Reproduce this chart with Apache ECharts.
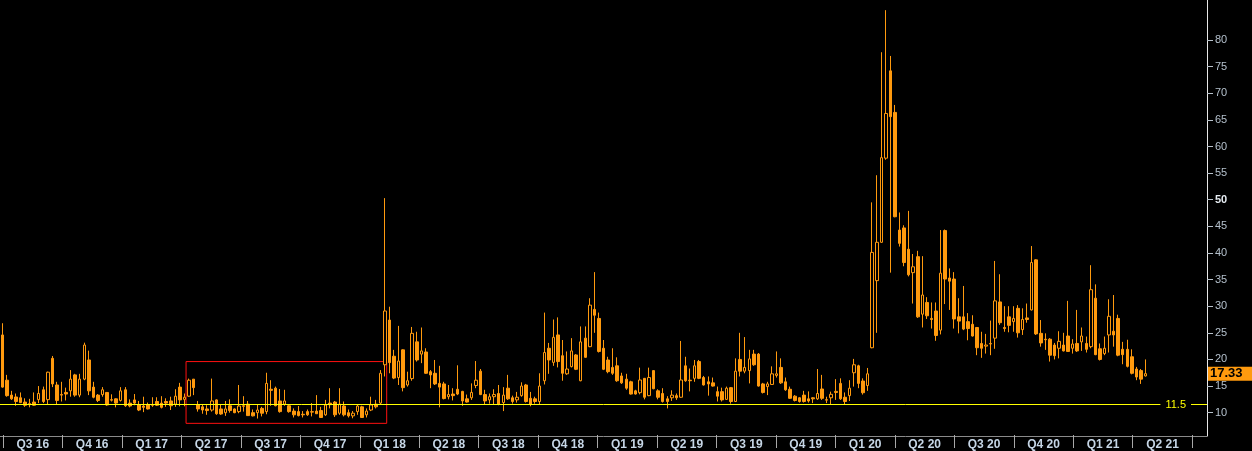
<!DOCTYPE html>
<html><head><meta charset="utf-8">
<script src="https://cdn.jsdelivr.net/npm/echarts@6/dist/echarts.min.js"></script>
<style>html,body{margin:0;padding:0;background:#000;overflow:hidden}#c{width:1252px;height:451px}</style>
</head><body><div id="c"></div>
<script>
// ---- data ----
const firstWeek = '2016-06-27';      // Monday of first weekly bar
const totalSlots = 265;             // weekly slots on the axis (incl. empty future weeks)
const quarterLabels = ['Q3 16','Q4 16','Q1 17','Q2 17','Q3 17','Q4 17','Q1 18','Q2 18','Q3 18','Q4 18',
                       'Q1 19','Q2 19','Q3 19','Q4 19','Q1 20','Q2 20','Q3 20','Q4 20','Q1 21','Q2 21'];
const yTickValues = [10,15,20,25,30,35,40,45,50,55,60,65,70,75,80];
const supportLevel = 11.5;
const lastPrice = 17.33;
const boxSlots = [40.85, 84.9];     // annotation box, in week-slot units
const boxLevels = [19.6, 8.0];

// weekly bars: [open, high, low, close]
const w2016 = [
[24.6,26.8,14.7,14.8],[16.1,17.1,13.0,13.2],[13.3,14.1,12.4,12.6],[12.95,13.6,11.3,12.1],
[12.8,13.8,11.8,11.9],[12.0,12.7,11.1,11.4],[11.7,12.6,11.0,11.5],[12.0,13.8,11.3,11.4],
[12.45,15.0,11.8,13.6],[14.3,14.9,11.8,12.1],[12.45,17.7,11.6,17.6],[20.2,20.65,14.8,15.4],
[15.2,15.8,11.6,12.3],[13.4,15.8,12.1,13.3],[13.8,14.7,12.3,13.5],[14.1,18.0,13.0,16.3],
[17.1,17.3,13.0,13.3],[13.3,17.3,12.9,16.3],[16.3,23.15,16.1,22.7],[19.9,21.65,13.3,14.1],
[14.8,15.8,12.7,12.9],[13.3,13.5,12.0,12.3],[13.4,14.8,13.0,14.3],[13.8,13.8,11.3,11.45],
[12.45,13.45,12.1,12.35],[12.6,12.7,11.0,11.8],[12.3,14.8,12.1,14.1]
];
const w2017 = [
[14.3,14.8,11.1,11.3],[11.8,12.5,11.0,11.25],[12.4,13.5,11.4,11.8],[11.45,12.2,10.3,10.5],
[11.25,13.0,10.1,11.0],[11.45,11.9,10.6,10.7],[11.5,12.9,11.1,11.4],[12.1,12.9,11.25,11.4],
[11.8,13.1,10.8,11.0],[12.1,12.7,11.1,11.8],[12.2,13.0,10.5,11.3],[11.6,14.4,11.1,13.1],
[14.8,15.6,11.2,12.4],[12.5,13.6,11.2,12.9],[13.1,16.4,13.0,16.1],[16.3,16.3,13.3,14.7],
[11.45,12.2,10.2,10.7],[11.1,11.6,9.8,10.5],[10.7,11.4,9.6,10.4],[10.5,16.4,10.2,12.2],
[12.4,12.5,9.6,9.8],[10.7,11.5,9.6,9.75],[10.0,12.2,9.4,10.7],[11.3,12.5,10.0,10.4],
[10.7,10.8,9.9,10.0],[10.2,15.2,9.9,11.25],[11.3,13.1,10.2,11.2],[11.6,12.2,9.4,9.45],
[10.0,10.6,9.3,9.4],[10.0,11.45,8.9,10.5],[10.8,11.1,9.3,9.9],[10.2,17.5,9.7,15.5],
[14.4,16.1,11.3,14.2],[14.6,14.9,11.2,11.3],[12.2,14.45,10.0,10.2],[11.6,14.3,11.3,12.2],
[11.3,11.45,10.0,10.2],[10.3,10.8,9.1,9.6],[10.2,11.25,9.3,9.45],[9.7,10.3,9.1,9.6],
[10.2,10.6,9.4,9.6],[10.1,11.8,9.3,10.2],[10.3,13.3,9.75,9.8],[10.4,11.1,9.0,9.1],
[9.6,12.4,9.4,11.45],[11.8,14.6,10.8,11.5],[12.0,12.2,9.2,9.6],[9.9,14.6,9.6,11.6],
[11.25,12.1,9.3,9.6],[10.0,10.6,9.1,9.4],[9.4,10.3,8.95,9.9],[10.2,11.45,9.6,11.25]
];
const w2018 = [
[11.1,11.3,9.0,9.1],[9.6,10.8,9.1,10.3],[10.5,13.0,10.3,11.45],[11.6,12.4,10.8,11.1],
[11.8,18.0,11.6,17.4],[19.0,50.3,16.8,29.1],[27.4,29.9,17.4,19.4],[20.6,21.8,16.3,16.5],
[16.6,26.3,15.2,19.7],[21.8,21.9,14.0,14.7],[15.2,17.7,14.9,16.0],[16.4,26.1,16.0,24.9],
[23.3,25.2,19.6,19.9],[21.0,26.0,19.3,21.6],[21.4,22.1,17.3,17.4],[17.7,18.0,14.6,17.1],
[17.4,19.9,15.2,15.4],[15.5,18.8,11.0,14.8],[15.4,15.8,12.5,12.65],[13.0,15.2,12.5,13.4],
[13.5,14.6,12.3,13.2],[14.4,18.9,13.3,13.5],[14.0,14.1,11.3,12.2],[12.6,13.4,11.9,12.0],
[12.8,15.5,12.4,13.8],[15.1,19.7,14.6,16.1],[17.8,18.2,13.3,13.4],[13.4,14.3,11.6,12.2],
[12.4,13.6,11.7,13.0],[13.0,14.4,11.6,13.4],[13.6,15.2,11.4,11.6],[11.9,14.8,10.3,13.3],
[14.6,17.1,12.4,12.6],[12.8,13.2,11.7,12.1],[12.4,13.9,11.9,12.9],[13.2,15.7,13.0,15.0],
[15.2,15.4,11.9,12.1],[12.7,13.9,11.2,11.6],[12.6,13.0,11.7,12.1],[12.1,17.4,11.5,15.0],
[16.0,28.8,15.3,21.3],[22.1,23.1,17.3,19.9],[19.45,27.5,18.8,24.15],[24.6,27.9,18.5,19.6],
[20.7,23.65,16.0,17.4],[17.3,21.5,17.1,18.2],[18.65,24.0,18.5,21.6],[20.84,21.0,18.0,18.15],
[16.0,26.2,15.9,23.3],[24.0,26.2,20.3,20.4],[22.4,31.5,22.3,30.2],[29.4,36.4,25.0,28.3],
[27.7,28.8,21.3,21.5]
];
const w2019 = [
[22.1,23.65,18.0,18.15],[19.9,20.5,17.4,17.7],[18.5,22.1,17.1,17.4],[18.8,20.4,15.8,16.0],
[16.9,17.5,15.4,15.6],[16.3,17.3,14.3,14.6],[15.8,16.0,13.4,13.5],[14.1,14.3,13.4,13.5],
[13.76,18.46,13.45,16.14],[16.45,16.5,12.5,12.9],[13.2,18.46,13.1,16.6],[17.9,18.0,14.4,14.5],
[14.1,14.4,12.5,12.9],[13.6,14.6,11.9,12.1],[12.6,13.1,10.8,12.1],[12.8,14.2,12.2,13.3],
[13.2,13.6,12.4,12.8],[12.9,23.47,12.8,16.14],[18.8,20.5,15.8,16.0],[16.1,18.3,14.0,16.0],
[16.45,19.9,15.8,18.8],[19.6,19.9,16.3,16.45],[16.6,16.9,15.1,15.2],[15.8,16.8,13.2,15.4],
[15.6,16.6,14.9,15.0],[13.95,14.9,12.1,13.1],[13.95,14.7,12.1,12.4],[12.5,14.9,12.4,14.6],
[14.7,14.8,11.7,12.1],[12.1,20.2,12.0,17.8],[20.0,25.0,16.8,17.8],[17.8,24.2,17.4,18.5],
[17.9,21.8,15.5,20.1],[21.0,21.8,18.8,19.0],[21.0,21.2,14.9,15.0],[15.4,15.6,13.6,13.8],
[14.9,15.8,13.3,15.4],[15.3,18.7,15.2,17.3],[17.0,21.5,16.6,17.3],[18.5,20.2,15.4,15.6],
[15.8,16.6,14.1,14.3],[14.4,14.9,12.6,12.7],[13.1,13.3,12.1,12.3],[12.8,12.9,11.9,12.1],
[13.3,14.1,11.9,12.1],[12.6,14.0,11.9,12.2],[12.8,12.9,11.8,12.6],[12.6,18.2,12.4,13.6],
[14.45,17.1,12.4,12.7],[12.35,13.0,11.8,12.45],[12.8,13.95,11.6,13.45],[14.0,16.3,12.4,13.8]
];
const w2020 = [
[15.5,16.45,12.4,12.6],[12.9,13.8,11.6,12.1],[13.2,16.1,12.2,14.6],[17.5,20.1,14.9,19.0],
[18.8,19.0,14.6,15.5],[15.95,16.45,13.4,13.75],[15.1,18.4,14.1,17.3],[22.2,49.5,22.1,40.1],
[34.8,54.6,25.0,42.0],[42.0,77.7,41.9,57.9],[57.8,85.6,57.5,66.2],[74.2,77.0,36.3,65.6],
[66.4,67.8,46.7,46.8],[44.3,47.6,41.2,41.8],[44.7,45.2,37.5,38.2],[40.7,47.9,35.6,35.9],
[36.3,39.8,30.5,37.4],[39.3,40.4,27.8,28.0],[28.5,39.4,26.0,32.1],[30.7,31.7,27.6,28.2],
[27.7,30.7,25.8,27.5],[29.1,30.7,23.5,24.5],[25.5,44.3,24.7,36.2],[44.2,44.4,30.4,35.1],
[35.3,37.1,29.3,34.7],[35.1,36.4,25.8,27.6],[28.0,31.5,24.9,27.2],[28.0,33.8,25.5,25.7],
[27.1,28.7,23.6,25.8],[26.6,28.3,24.3,24.4],[26.0,26.1,20.8,22.2],[23.0,25.2,20.3,22.1],
[22.5,24.8,21.1,22.7],[22.9,27.3,20.8,23.0],[24.0,38.5,22.0,31.0],[30.8,36.0,26.5,26.9],
[26.0,30.0,25.2,25.8],[28.0,30.0,25.1,26.4],[27.1,30.0,25.2,27.7],[29.6,30.2,24.1,25.0],
[25.6,29.6,24.6,27.5],[27.8,30.5,26.9,27.5],[29.3,41.3,29.2,38.2],[38.7,38.8,24.6,24.8],
[24.9,27.4,22.4,23.1],[23.8,24.9,21.8,23.7],[23.8,24.0,19.6,20.8],[22.7,23.1,20.0,20.7],
[22.1,25.3,20.2,23.4],[22.7,25.0,21.5,21.6],[24.4,31.0,21.4,21.5],[22.1,23.8,21.1,22.9]
];
const w2021 = [
[23.0,29.3,21.4,21.6],[23.3,26.0,21.6,24.4],[23.0,24.3,21.3,21.9],[22.4,37.7,22.1,33.1],
[31.5,34.1,20.8,20.9],[22.0,23.0,19.8,20.0],[21.1,24.3,20.8,22.1],[24.6,31.3,21.3,28.1],
[25.3,32.1,22.4,24.6],[27.7,28.4,20.6,20.8],[21.9,23.3,19.1,20.9],[21.9,23.7,18.5,18.7],
[20.5,21.9,17.2,17.4],[18.2,18.6,16.1,16.7],[17.9,18.2,15.4,16.3],[16.9,20.0,16.8,17.33]
];

// ---- build ----
const ORANGE = '#ff9a0e';
const FONT = 'Liberation Sans, Arial, sans-serif';
const weeks = [];
{
  const d0 = new Date(firstWeek + 'T00:00:00Z');
  for (let i = 0; i < totalSlots; i++) {
    const d = new Date(d0.getTime() + i * 7 * 86400000);
    weeks.push(d.toISOString().slice(0, 10));
  }
}
const bars = [].concat(w2016, w2017, w2018, w2019, w2020, w2021);
const candleData = bars.map(b => [b[0], b[3], b[2], b[1]]); // open, close, low, high

const chart = echarts.init(document.getElementById('c'), null, {renderer: 'canvas'});
chart.setOption({
  backgroundColor: '#000000',
  animation: false,
  grid: [
    {left: 0, right: 45, top: 0, bottom: 15},
    {left: 3, right: 59.8, top: 0, bottom: 15}
  ],
  xAxis: [
    {type: 'category', gridIndex: 0, data: weeks, boundaryGap: true,
     axisLine: {show: true, onZero: false, lineStyle: {color: '#8a8a8a', width: 1}},
     axisTick: {show: false}, axisLabel: {show: false}, splitLine: {show: false}},
    {type: 'category', gridIndex: 1, data: quarterLabels, boundaryGap: true,
     axisLine: {show: false, onZero: false},
     axisTick: {show: true, interval: 0, length: 13, lineStyle: {color: '#a8a8a8', width: 1}},
     axisLabel: {interval: 0, color: '#c6d6e6', fontWeight: 'bold', fontSize: 12,
                 fontFamily: FONT, margin: 4},
     splitLine: {show: false}},
    {type: 'value', gridIndex: 0, min: 0, max: totalSlots, show: false,
     axisLine: {onZero: false}}
  ],
  yAxis: [
    {type: 'value', gridIndex: 0, position: 'right', min: 5.62, max: 87.51,
     axisLine: {show: true, onZero: false, lineStyle: {color: '#e8e8e8', width: 1}},
     axisTick: {show: true, length: 6, customValues: yTickValues, lineStyle: {color: '#b8c2cc'}},
     axisLabel: {customValues: yTickValues, margin: 8, fontSize: 11,
                 fontFamily: FONT, color: '#b4c0cc',
                 formatter: v => v === 50 ? '{b|50}' : String(v),
                 rich: {b: {fontWeight: 'bold', color: '#e6ecf2', fontSize: 11, fontFamily: FONT}}},
     splitLine: {show: false}},
    {type: 'value', gridIndex: 1, show: false, min: 0, max: 1, axisLine: {onZero: false}}
  ],
  series: [
    {type: 'candlestick', name: 'VIX', xAxisIndex: 0, yAxisIndex: 0, data: candleData,
     barWidth: 3, clip: true, silent: true,
     itemStyle: {color: '#000000', color0: ORANGE, borderColor: ORANGE, borderColor0: ORANGE, borderWidth: 1},
     markLine: {
       silent: true, symbol: 'none', animation: false,
       data: [
         {yAxis: supportLevel,
          lineStyle: {color: '#ffff00', width: 1, type: 'solid'},
          label: {show: true, position: 'insideEnd', distance: 16, formatter: String(supportLevel),
                  color: '#ffff00', fontSize: 11, fontFamily: FONT,
                  backgroundColor: '#000000', padding: [1, 5, 1, 5]}}
       ]
     }},
    {type: 'line', xAxisIndex: 2, yAxisIndex: 0, data: [], silent: true, clip: false,
     markArea: {silent: true,
       itemStyle: {color: 'rgba(0,0,0,0)', borderColor: '#ff1010', borderWidth: 1},
       data: [[{xAxis: boxSlots[0], yAxis: boxLevels[0]}, {xAxis: boxSlots[1], yAxis: boxLevels[1]}]]},
     markLine: {
       silent: true, symbol: 'none', animation: false,
       data: [
         {yAxis: lastPrice,
          lineStyle: {color: 'rgba(0,0,0,0)', width: 1},
          label: {show: true, position: 'end', distance: 1, formatter: lastPrice.toFixed(2),
                  color: '#000000', fontWeight: 'bold', fontSize: 13, fontFamily: FONT,
                  backgroundColor: ORANGE, padding: [1, 12, 0, 2]}}
       ]
     }}
  ]
});
</script>
</body></html>
